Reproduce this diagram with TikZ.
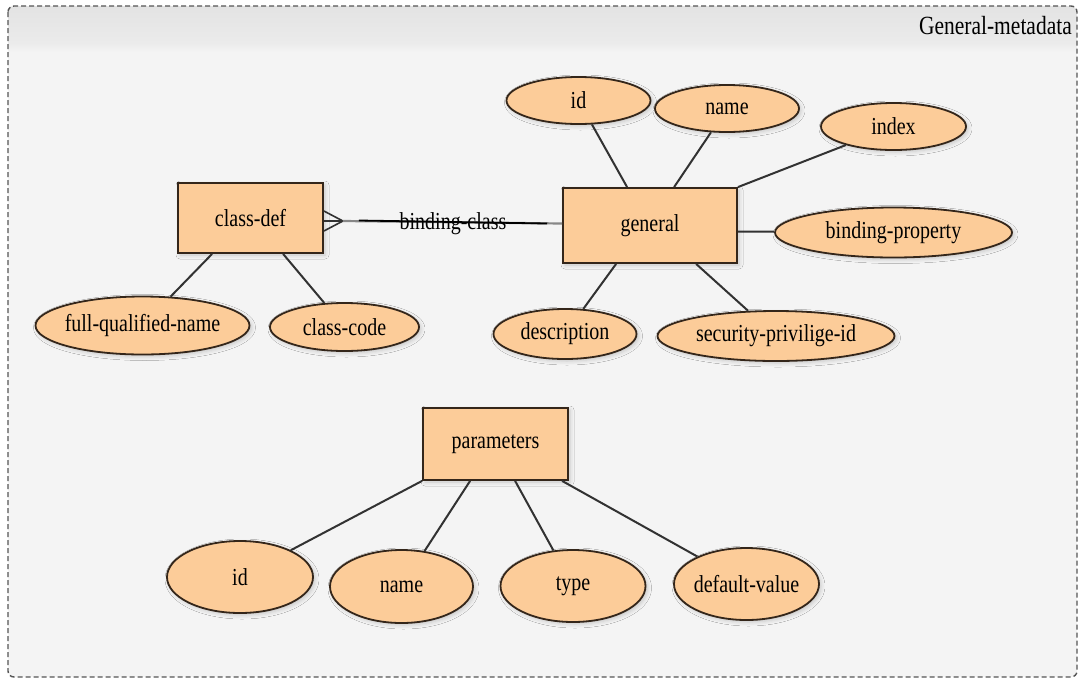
\documentclass[tikz,border=0pt]{standalone}
\usepackage{graphicx}
\usepackage{fontspec}
\setmainfont{Liberation Serif}
\usetikzlibrary{shapes.geometric,shadows.blur,calc}

\definecolor{entfill}{RGB}{252,204,153}
\definecolor{entline}{RGB}{52,38,26}
\definecolor{linkline}{RGB}{50,50,50}
\definecolor{panelbg}{RGB}{244,244,244}
\definecolor{headtop}{RGB}{227,227,227}
\definecolor{headbot}{RGB}{235,235,235}
\definecolor{framecol}{RGB}{85,85,85}
\definecolor{relgray}{RGB}{135,135,135}

% text set a little taller than wide
\newcommand{\tall}[1]{\scalebox{1}[1.22]{#1}}
% zero-width label so the ellipse size comes only from its minimum size
\newcommand{\lbl}[1]{\makebox[0pt][c]{\tall{#1}}}

\begin{document}
\begin{tikzpicture}[x=1pt,y=-1pt,
  txt/.style={font=\rmfamily\fontsize{20}{24}\selectfont},
  base/.style={txt, draw=entline, fill=entfill, line width=1.8pt, inner sep=0pt,
    blur shadow={shadow xshift=2pt, shadow yshift=-2pt,
      shadow blur radius=4pt, shadow opacity=20}},
  entity/.style={base, rectangle},
  attr/.style={base, ellipse},
  link/.style={draw=linkline, line width=2pt},
  relgrey/.style={draw=relgray, line width=2.2pt},
  relblack/.style={draw=black, line width=1.8pt},
  framebox/.style={draw=framecol, line width=1.4pt, dash pattern=on 5pt off 3pt, rounded corners=6pt},
]
\useasboundingbox (0,0) rectangle (1082,681);
\fill[white] (0,0) rectangle (1082,681);

% panel with its header band
\begin{scope}
  \clip[rounded corners=6pt] (8,6) rectangle (1077,677);
  \fill[panelbg] (8,6) rectangle (1077,677);
  \shade[top color=headtop, bottom color=headbot] (8,6) rectangle (1077,43);
  \shade[top color=headbot, bottom color=panelbg] (8,43) rectangle (1077,52);
\end{scope}
\draw[framebox] (8,6) rectangle (1077,677);
\node[anchor=east, font=\rmfamily\fontsize{21.5}{24}\selectfont, inner sep=0pt] (title) at (1072,26) {\tall{General-metadata}};

% entities
\node[entity, minimum width=145, minimum height=70] (cdef) at (250.5,218) {\tall{class-def}};
\node[entity, minimum width=174, minimum height=75] (gen) at (650,225.5) {\tall{general}};
\node[entity, minimum width=145, minimum height=72] (param) at (495.5,444) {\tall{parameters}};

% attributes of general
\node[attr, minimum width=144, minimum height=47] (gid) at (578.5,100.5) {\lbl{id}};
\node[attr, minimum width=144, minimum height=47] (gname) at (727,108.5) {\lbl{name}};
\node[attr, minimum width=145, minimum height=47] (gindex) at (893.5,126.5) {\lbl{index}};
\node[attr, minimum width=237, minimum height=50] (gbprop) at (893.5,232.5) {\lbl{binding-property}};
\node[attr, minimum width=143, minimum height=50] (gdesc) at (565,334) {\lbl{description}};
\node[attr, minimum width=237, minimum height=50] (gsec) at (776,336) {\lbl{security-privilige-id}};

% attributes of class-def
\node[attr, minimum width=214, minimum height=58] (cfqn) at (142.5,325.5) {\lbl{full-qualified-name}};
\node[attr, minimum width=149, minimum height=48] (ccode) at (344.5,327) {\lbl{class-code}};

% attributes of parameters
\node[attr, minimum width=146, minimum height=72] (pid) at (240,577) {\lbl{id}};
\node[attr, minimum width=143, minimum height=73] (pname) at (401.5,586.5) {\lbl{name}};
\node[attr, minimum width=145, minimum height=72] (ptype) at (573,586) {\lbl{type}};
\node[attr, minimum width=145, minimum height=72] (pdef) at (746.5,584) {\lbl{default-value}};

% attribute links
\draw[link] ($(gen.north west)+(65,0)$) -- (gid);
\draw[link] ($(gen.north west)+(112,0)$) -- (gname);
\draw[link] (gen.north east) -- (gindex);
\draw[link] ($(gen.east)+(0,6)$) -- (gbprop);
\draw[link] ($(gen.south west)+(54,0)$) -- (gdesc);
\draw[link] ($(gen.south west)+(134,0)$) -- (gsec);

\draw[link] ($(cdef.south west)+(35,0)$) -- (cfqn);
\draw[link] ($(cdef.south west)+(106,0)$) -- (ccode);

\draw[link] (param.south west) -- (pid);
\draw[link] ($(param.south west)+(48,0)$) -- (pname);
\draw[link] ($(param.south west)+(93,0)$) -- (ptype);
\draw[link] ($(param.south west)+(140,0)$) -- (pdef);

% binding-class relationship with crow's foot at class-def
\coordinate (cf) at ($(cdef.east)+(19,3)$);
\draw[link, line width=1.6pt] ($(cdef.east)+(0,-7)$) -- (cf);
\draw[link, line width=1.6pt] ($(cdef.east)+(0,3)$) -- (cf);
\draw[link, line width=1.6pt] ($(cdef.east)+(0,13)$) -- (cf);
\draw[relgrey] (cf) -- ($(gen.west)+(0,-2)$);
\coordinate (rl1) at ($(cf)+(16,-0.5)$);
\coordinate (rl2) at ($(gen.west)+(-15,-2)$);
\draw[relblack] (rl1) -- node[txt, inner sep=0pt, yshift=-2pt] (bclass) {\tall{binding-class}} (rl2);
\end{tikzpicture}
\end{document}
